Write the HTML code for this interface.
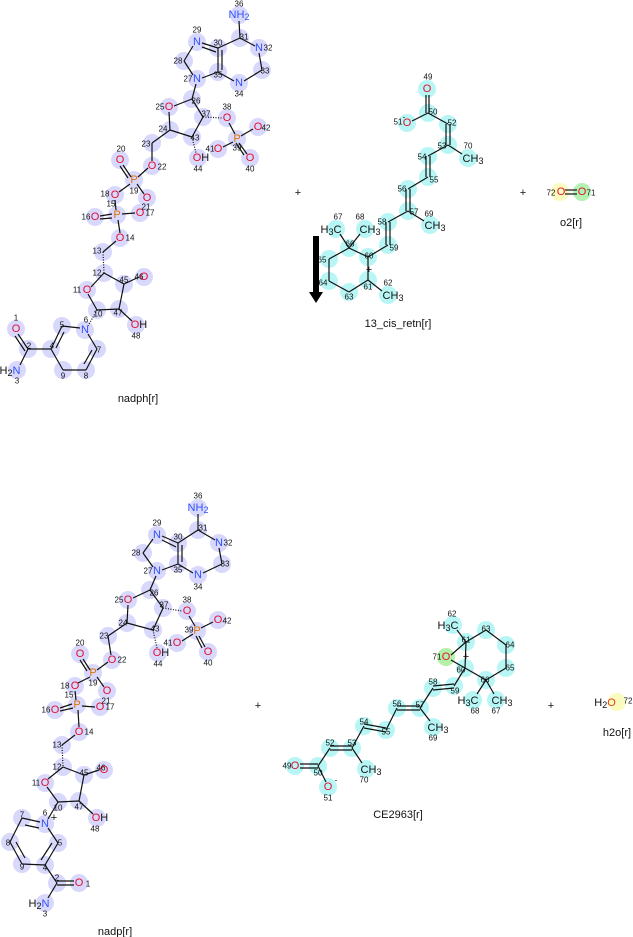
<!DOCTYPE html>
<html><head><meta charset="utf-8"><style>
html,body{margin:0;padding:0;background:#fff;}
svg{display:block;font-family:"Liberation Sans","DejaVu Sans",sans-serif;}
.b{fill:#d8d8fc}.c{fill:#b8f6f6}
.a{font-size:11px;text-anchor:middle;dominant-baseline:central}
.n{fill:#3050f8}.o{fill:#e0102f}.p{fill:#e07000}.k{fill:#111}
.s{font-size:8px;fill:#111;text-anchor:middle;dominant-baseline:central}
.l{font-size:11px;fill:#111;text-anchor:middle}
line{stroke:#111;stroke-width:1.2}
</style></head><body>
<svg width="633" height="937" viewBox="0 0 633 937" xmlns="http://www.w3.org/2000/svg">
<!-- ===== NADPH top ===== -->
<g class="b">
<circle cx="239" cy="15" r="9"/><circle cx="240" cy="38" r="9"/><circle cx="259" cy="48" r="9"/><circle cx="262" cy="70" r="9"/><circle cx="239" cy="83" r="9"/><circle cx="218" cy="72" r="9"/><circle cx="218" cy="48" r="9"/><circle cx="197" cy="42" r="9"/><circle cx="184" cy="61" r="9"/><circle cx="197" cy="79" r="9"/><circle cx="192" cy="99" r="9"/><circle cx="169" cy="107" r="9"/><circle cx="203" cy="117" r="9"/><circle cx="227" cy="118" r="9"/><circle cx="237" cy="139" r="9"/><circle cx="258" cy="127" r="9"/><circle cx="250" cy="158" r="9"/><circle cx="218" cy="149" r="9"/><circle cx="192" cy="137" r="9"/><circle cx="198" cy="158" r="9"/><circle cx="170" cy="130" r="9"/><circle cx="152" cy="143" r="9"/><circle cx="152" cy="166" r="9"/><circle cx="120" cy="160" r="9"/><circle cx="134" cy="180" r="9"/><circle cx="115" cy="195" r="9"/><circle cx="147" cy="198" r="9"/><circle cx="117" cy="215" r="9"/><circle cx="95" cy="217" r="9"/><circle cx="140" cy="213" r="9"/><circle cx="120" cy="238" r="9"/><circle cx="103" cy="252" r="9"/><circle cx="104" cy="273" r="9"/><circle cx="87" cy="290" r="9"/><circle cx="144" cy="277" r="9"/><circle cx="124" cy="284" r="9"/><circle cx="97" cy="310" r="9"/><circle cx="119" cy="309" r="9"/><circle cx="136" cy="325" r="9"/><circle cx="85" cy="330" r="9"/><circle cx="62" cy="326" r="9"/><circle cx="97" cy="349" r="9"/><circle cx="51" cy="349" r="9"/><circle cx="86" cy="370" r="9"/><circle cx="63" cy="370" r="9"/><circle cx="28" cy="349" r="9"/><circle cx="16" cy="329" r="9"/><circle cx="17" cy="370" r="9"/>
</g>
<g>
<line x1="239" y1="21" x2="240" y2="38"/><line x1="240" y1="38" x2="255" y2="46"/><line x1="259" y1="53" x2="262" y2="70"/><line x1="262" y1="70" x2="244" y2="81"/><line x1="234" y1="81" x2="218" y2="72"/><line x1="218" y1="72" x2="218" y2="48"/><line x1="222" y1="70" x2="222" y2="50"/><line x1="218" y1="48" x2="240" y2="38"/><line x1="218" y1="48" x2="202" y2="43"/><line x1="216" y1="52" x2="202" y2="47"/><line x1="193" y1="46" x2="184" y2="61"/><line x1="184" y1="61" x2="193" y2="75"/><line x1="202" y1="78" x2="218" y2="72"/>
<line x1="196" y1="84" x2="192" y2="99"/><line x1="192" y1="99" x2="174" y2="106"/><line x1="192" y1="99" x2="203" y2="117"/><line x1="203" y1="117" x2="192" y2="137"/><line x1="192" y1="137" x2="170" y2="130"/><line x1="170" y1="130" x2="169" y2="112"/><line x1="203" y1="117" x2="222" y2="118" stroke-dasharray="1,1.5" stroke-width="3"/><line x1="229" y1="123" x2="235" y2="134"/><line x1="241" y1="136" x2="253" y2="129"/><line x1="239" y1="143" x2="247" y2="154"/><line x1="236" y1="143" x2="244" y2="155"/><line x1="233" y1="142" x2="223" y2="147"/><line x1="192" y1="137" x2="196" y2="153" stroke-dasharray="1,1.5" stroke-width="3"/>
<line x1="170" y1="130" x2="152" y2="143" stroke-width="3"/><line x1="152" y1="143" x2="152" y2="161"/><line x1="148" y1="168" x2="138" y2="177"/><line x1="131" y1="177" x2="123" y2="165"/><line x1="128" y1="178" x2="120" y2="166"/><line x1="130" y1="184" x2="119" y2="192"/><line x1="137" y1="184" x2="144" y2="194"/><line x1="115" y1="200" x2="116" y2="210"/><line x1="112" y1="214" x2="100" y2="216"/><line x1="112" y1="218" x2="100" y2="219"/><line x1="122" y1="214" x2="135" y2="213"/><line x1="118" y1="220" x2="120" y2="233"/><line x1="116" y1="241" x2="103" y2="252"/><line x1="103" y1="252" x2="104" y2="273" stroke-dasharray="1,1.5" stroke-width="3"/><line x1="104" y1="273" x2="91" y2="287"/><line x1="104" y1="273" x2="124" y2="284"/><line x1="124" y1="284" x2="139" y2="277" stroke-width="3"/><line x1="124" y1="284" x2="119" y2="309"/><line x1="119" y1="309" x2="97" y2="310"/><line x1="97" y1="310" x2="88" y2="294"/><line x1="119" y1="309" x2="132" y2="321" stroke-width="3"/><line x1="97" y1="310" x2="88" y2="326" stroke-dasharray="1,1.5" stroke-width="3"/>
<line x1="80" y1="328" x2="62" y2="326"/><line x1="62" y1="326" x2="51" y2="349"/><line x1="64" y1="332" x2="56" y2="348"/><line x1="51" y1="349" x2="63" y2="370"/><line x1="63" y1="370" x2="86" y2="370"/><line x1="86" y1="370" x2="97" y2="349"/><line x1="84" y1="364" x2="92" y2="350"/><line x1="97" y1="349" x2="88" y2="334"/><line x1="51" y1="349" x2="28" y2="349"/><line x1="28" y1="349" x2="18" y2="334"/><line x1="25" y1="351" x2="15" y2="336"/><line x1="28" y1="349" x2="20" y2="365"/>
</g>
<g class="a">
<text x="239" y="15" class="n">NH<tspan font-size="9" dy="2">2</tspan></text>
<text x="259" y="48" class="n">N</text><text x="239" y="83" class="n">N</text><text x="197" y="42" class="n">N</text><text x="197" y="79" class="n">N</text>
<text x="169" y="107" class="o">O</text><text x="227" y="118" class="o">O</text><text x="237" y="139" class="p">P</text><text x="258" y="127" class="o">O</text><text x="250" y="158" class="o">O</text><text x="218" y="149" class="o">O</text>
<text x="201" y="158" class="o">O<tspan class="k">H</tspan></text>
<text x="152" y="166" class="o">O</text><text x="120" y="160" class="o">O</text><text x="134" y="180" class="p">P</text><text x="115" y="195" class="o">O</text><text x="147" y="198" class="o">O</text><text x="117" y="215" class="p">P</text><text x="95" y="217" class="o">O</text><text x="140" y="213" class="o">O</text><text x="120" y="238" class="o">O</text><text x="87" y="290" class="o">O</text><text x="144" y="277" class="o">O</text>
<text x="139" y="325" class="o">O<tspan class="k">H</tspan></text>
<text x="85" y="330" class="n">N</text><text x="16" y="329" class="o">O</text>
<text x="10" y="371" class="k">H<tspan font-size="9" dy="2">2</tspan><tspan class="n" dy="-2">N</tspan></text>
</g>
<g class="s">
<text x="239" y="4">36</text><text x="244" y="37">31</text><text x="268" y="48">32</text><text x="265" y="71">33</text><text x="239" y="94">34</text><text x="218" y="75">35</text><text x="218" y="43">30</text><text x="197" y="30">29</text><text x="178" y="61">28</text><text x="188" y="79">27</text><text x="196" y="101">26</text><text x="160" y="107">25</text><text x="206" y="114">37</text><text x="227" y="107">38</text><text x="237" y="148">39</text><text x="266" y="128">42</text><text x="250" y="169">40</text><text x="210" y="149">41</text><text x="195" y="138">43</text><text x="198" y="169">44</text><text x="163" y="129">24</text><text x="146" y="144">23</text><text x="162" y="167">22</text><text x="121" y="149">20</text><text x="134" y="191">19</text><text x="105" y="194">18</text><text x="146" y="207">21</text><text x="111" y="204">15</text><text x="86" y="217">16</text><text x="150" y="213">17</text><text x="130" y="238">14</text><text x="97" y="251">13</text><text x="97" y="273">12</text><text x="77" y="290">11</text><text x="139" y="277">46</text><text x="124" y="280">45</text><text x="98" y="314">10</text><text x="118" y="313">47</text><text x="136" y="336">48</text><text x="86" y="320">6</text><text x="62" y="325">5</text><text x="99" y="350">7</text><text x="52" y="346">4</text><text x="86" y="376">8</text><text x="63" y="376">9</text><text x="29" y="346">2</text><text x="16" y="318">1</text><text x="17" y="381">3</text>
</g>
<text x="138" y="402" class="l">nadph[r]</text>

<!-- plus signs -->
<g class="l" font-size="14px"><text x="298" y="196">+</text><text x="523" y="196">+</text><text x="258" y="709">+</text><text x="551" y="709">+</text></g>

<!-- ===== 13-cis retinoate ===== -->
<g class="c">
<circle cx="427" cy="89" r="9"/><circle cx="428" cy="113" r="9"/><circle cx="407" cy="123" r="9"/><circle cx="448" cy="124" r="9"/><circle cx="448" cy="145" r="9"/><circle cx="468" cy="158" r="9"/><circle cx="428" cy="156" r="9"/><circle cx="428" cy="177" r="9"/><circle cx="408" cy="189" r="9"/><circle cx="408" cy="211" r="9"/><circle cx="430" cy="225" r="9"/><circle cx="388" cy="222" r="9"/><circle cx="388" cy="245" r="9"/><circle cx="368" cy="257" r="9"/><circle cx="368" cy="280" r="9"/><circle cx="388" cy="295" r="9"/><circle cx="349" cy="292" r="9"/><circle cx="329" cy="281" r="9"/><circle cx="329" cy="259" r="9"/><circle cx="349" cy="248" r="9"/><circle cx="336" cy="229" r="9"/><circle cx="365" cy="229" r="9"/>
</g>
<g>
<line x1="426" y1="95" x2="426" y2="113"/><line x1="429" y1="95" x2="429" y2="113"/><line x1="428" y1="113" x2="412" y2="121"/><line x1="428" y1="113" x2="448" y2="124"/><line x1="446" y1="124" x2="446" y2="145"/><line x1="450" y1="124" x2="450" y2="145"/><line x1="448" y1="145" x2="462" y2="154"/><line x1="448" y1="145" x2="428" y2="156"/><line x1="426" y1="156" x2="426" y2="177"/><line x1="430" y1="156" x2="430" y2="177"/><line x1="428" y1="177" x2="408" y2="189"/><line x1="406" y1="189" x2="406" y2="211"/><line x1="410" y1="189" x2="410" y2="211"/><line x1="408" y1="211" x2="424" y2="221"/><line x1="408" y1="211" x2="388" y2="222"/><line x1="386" y1="222" x2="386" y2="245"/><line x1="390" y1="222" x2="390" y2="245"/><line x1="388" y1="245" x2="368" y2="257"/><line x1="368" y1="257" x2="368" y2="280"/><line x1="368" y1="280" x2="382" y2="291"/><line x1="368" y1="280" x2="349" y2="292"/><line x1="349" y1="292" x2="329" y2="281"/><line x1="329" y1="281" x2="329" y2="259"/><line x1="329" y1="259" x2="349" y2="248"/><line x1="349" y1="248" x2="368" y2="257"/><line x1="349" y1="248" x2="340" y2="234"/><line x1="349" y1="248" x2="360" y2="234"/>
</g>
<g class="a">
<text x="427" y="89" class="o">O</text><text x="407" y="123" class="o">O</text><text x="404" y="117" class="k" font-size="8">-</text>
<text x="473" y="159" class="k">CH<tspan font-size="9" dy="2">3</tspan></text><text x="435" y="226" class="k">CH<tspan font-size="9" dy="2">3</tspan></text><text x="393" y="296" class="k">CH<tspan font-size="9" dy="2">3</tspan></text><text x="370" y="230" class="k">CH<tspan font-size="9" dy="2">3</tspan></text><text x="331" y="230" class="k">H<tspan font-size="9" dy="2">3</tspan><tspan dy="-2">C</tspan></text>
<text x="369" y="270" class="k">+</text>
</g>
<g class="s">
<text x="428" y="77">49</text><text x="433" y="112">50</text><text x="398" y="122">51</text><text x="452" y="123">52</text><text x="442" y="146">53</text><text x="468" y="146">70</text><text x="422" y="157">54</text><text x="434" y="180">55</text><text x="402" y="189">56</text><text x="414" y="212">57</text><text x="429" y="214">69</text><text x="382" y="222">58</text><text x="394" y="248">59</text><text x="369" y="256">60</text><text x="368" y="287">61</text><text x="388" y="283">62</text><text x="349" y="297">63</text><text x="323" y="283">64</text><text x="322" y="260">65</text><text x="350" y="244">66</text><text x="338" y="217">67</text><text x="360" y="217">68</text>
</g>
<text x="398" y="327" class="l">13_cis_retn[r]</text>
<rect x="313" y="236" width="6" height="57" fill="#000"/><polygon points="309,292 323,292 316,303" fill="#000"/>

<!-- o2 -->
<circle cx="560" cy="192" r="9" fill="#fbfbc0"/><circle cx="582" cy="192" r="9" fill="#b4f2b4"/>
<line x1="565" y1="190" x2="577" y2="190"/><line x1="565" y1="194" x2="577" y2="194"/>
<text x="561" y="192" class="a o" fill="#e04010">O</text><text x="582" y="192" class="a o">O</text>
<text x="551" y="193" class="s">72</text><text x="591" y="193" class="s">71</text>
<text x="571" y="226" class="l">o2[r]</text>

<!-- ===== NADP bottom ===== -->
<g class="b">
<circle cx="198" cy="508" r="9"/><circle cx="198" cy="530" r="9"/><circle cx="219" cy="543" r="9"/><circle cx="222" cy="564" r="9"/><circle cx="198" cy="575" r="9"/><circle cx="178" cy="564" r="9"/><circle cx="178" cy="543" r="9"/><circle cx="157" cy="535" r="9"/><circle cx="143" cy="553" r="9"/><circle cx="157" cy="571" r="9"/><circle cx="150" cy="590" r="9"/><circle cx="128" cy="600" r="9"/><circle cx="163" cy="608" r="9"/><circle cx="187" cy="611" r="9"/><circle cx="197" cy="631" r="9"/><circle cx="218" cy="620" r="9"/><circle cx="208" cy="652" r="9"/><circle cx="177" cy="643" r="9"/><circle cx="153" cy="630" r="9"/><circle cx="158" cy="653" r="9"/><circle cx="127" cy="623" r="9"/><circle cx="108" cy="636" r="9"/><circle cx="112" cy="660" r="9"/><circle cx="80" cy="654" r="9"/><circle cx="93" cy="673" r="9"/><circle cx="75" cy="686" r="9"/><circle cx="107" cy="691" r="9"/><circle cx="77" cy="705" r="9"/><circle cx="55" cy="710" r="9"/><circle cx="100" cy="707" r="9"/><circle cx="79" cy="732" r="9"/><circle cx="62" cy="745" r="9"/><circle cx="63" cy="767" r="9"/><circle cx="45" cy="783" r="9"/><circle cx="104" cy="770" r="9"/><circle cx="84" cy="775" r="9"/><circle cx="58" cy="802" r="9"/><circle cx="79" cy="801" r="9"/><circle cx="97" cy="818" r="9"/><circle cx="45" cy="824" r="9"/><circle cx="22" cy="818" r="9"/><circle cx="58" cy="843" r="9"/><circle cx="10" cy="842" r="9"/><circle cx="22" cy="864" r="9"/><circle cx="45" cy="865" r="9"/><circle cx="57" cy="883" r="9"/><circle cx="79" cy="883" r="9"/><circle cx="45" cy="903" r="9"/>
</g>
<g>
<line x1="198" y1="514" x2="198" y2="530"/><line x1="198" y1="530" x2="215" y2="540"/><line x1="219" y1="548" x2="222" y2="564"/><line x1="222" y1="564" x2="203" y2="573"/><line x1="193" y1="573" x2="178" y2="564"/><line x1="178" y1="564" x2="178" y2="543"/><line x1="182" y1="562" x2="182" y2="545"/><line x1="178" y1="543" x2="198" y2="530"/><line x1="178" y1="543" x2="162" y2="536"/><line x1="176" y1="547" x2="162" y2="540"/><line x1="153" y1="539" x2="143" y2="553"/><line x1="143" y1="553" x2="153" y2="567"/><line x1="162" y1="570" x2="178" y2="564"/>
<line x1="156" y1="576" x2="150" y2="590" stroke-width="3"/><line x1="150" y1="590" x2="133" y2="598"/><line x1="150" y1="590" x2="163" y2="608"/><line x1="163" y1="608" x2="153" y2="630"/><line x1="153" y1="630" x2="127" y2="623"/><line x1="127" y1="623" x2="128" y2="605"/><line x1="163" y1="608" x2="182" y2="611" stroke-dasharray="1,1.5" stroke-width="3"/><line x1="189" y1="616" x2="195" y2="626"/><line x1="201" y1="628" x2="213" y2="622"/><line x1="199" y1="636" x2="205" y2="647"/><line x1="196" y1="636" x2="202" y2="648"/><line x1="193" y1="634" x2="182" y2="641"/><line x1="153" y1="630" x2="157" y2="648" stroke-dasharray="1,1.5" stroke-width="3"/>
<line x1="127" y1="623" x2="108" y2="636" stroke-width="3"/><line x1="108" y1="636" x2="111" y2="655"/><line x1="108" y1="662" x2="97" y2="670"/><line x1="90" y1="670" x2="83" y2="659"/><line x1="87" y1="671" x2="80" y2="660"/><line x1="90" y1="677" x2="78" y2="683"/><line x1="97" y1="677" x2="104" y2="687"/><line x1="75" y1="691" x2="76" y2="700"/><line x1="72" y1="704" x2="60" y2="708"/><line x1="73" y1="708" x2="60" y2="711"/><line x1="82" y1="706" x2="95" y2="707"/><line x1="78" y1="710" x2="79" y2="727"/><line x1="75" y1="735" x2="62" y2="745"/><line x1="62" y1="745" x2="63" y2="767" stroke-dasharray="1,1.5" stroke-width="3"/><line x1="63" y1="767" x2="48" y2="779"/><line x1="63" y1="767" x2="84" y2="775"/><line x1="84" y1="775" x2="99" y2="770" stroke-width="3"/><line x1="84" y1="775" x2="79" y2="801"/><line x1="79" y1="801" x2="58" y2="802"/><line x1="58" y1="802" x2="47" y2="787"/><line x1="79" y1="801" x2="93" y2="814" stroke-width="3"/><line x1="58" y1="802" x2="48" y2="819"/>
<line x1="40" y1="822" x2="22" y2="818"/><line x1="39" y1="828" x2="25" y2="825"/><line x1="22" y1="818" x2="10" y2="842"/><line x1="10" y1="842" x2="22" y2="864"/><line x1="16" y1="842" x2="25" y2="858"/><line x1="22" y1="864" x2="45" y2="865"/><line x1="45" y1="865" x2="58" y2="843"/><line x1="41" y1="860" x2="52" y2="843"/><line x1="58" y1="843" x2="48" y2="828"/><line x1="45" y1="865" x2="57" y2="883"/><line x1="57" y1="881" x2="74" y2="881"/><line x1="57" y1="885" x2="74" y2="885"/><line x1="57" y1="883" x2="48" y2="898"/>
</g>
<g class="a">
<text x="198" y="508" class="n">NH<tspan font-size="9" dy="2">2</tspan></text>
<text x="219" y="543" class="n">N</text><text x="198" y="575" class="n">N</text><text x="157" y="535" class="n">N</text><text x="157" y="571" class="n">N</text>
<text x="128" y="600" class="o">O</text><text x="187" y="611" class="o">O</text><text x="197" y="631" class="p">P</text><text x="218" y="620" class="o">O</text><text x="208" y="652" class="o">O</text><text x="177" y="643" class="o">O</text>
<text x="161" y="653" class="o">O<tspan class="k">H</tspan></text>
<text x="112" y="660" class="o">O</text><text x="80" y="654" class="o">O</text><text x="93" y="673" class="p">P</text><text x="75" y="686" class="o">O</text><text x="107" y="691" class="o">O</text><text x="77" y="705" class="p">P</text><text x="55" y="710" class="o">O</text><text x="100" y="707" class="o">O</text><text x="79" y="732" class="o">O</text><text x="45" y="783" class="o">O</text><text x="104" y="770" class="o">O</text>
<text x="100" y="818" class="o">O<tspan class="k">H</tspan></text>
<text x="45" y="824" class="n">N</text><text x="54" y="818" class="k">+</text><text x="79" y="883" class="o">O</text>
<text x="39" y="904" class="k">H<tspan font-size="9" dy="2">2</tspan><tspan class="n" dy="-2">N</tspan></text>
</g>
<g class="s">
<text x="198" y="496">36</text><text x="203" y="528">31</text><text x="228" y="543">32</text><text x="225" y="564">33</text><text x="198" y="587">34</text><text x="178" y="570">35</text><text x="178" y="537">30</text><text x="157" y="523">29</text><text x="136" y="553">28</text><text x="148" y="571">27</text><text x="154" y="593">26</text><text x="119" y="600">25</text><text x="164" y="605">37</text><text x="187" y="600">38</text><text x="189" y="630">39</text><text x="227" y="621">42</text><text x="208" y="663">40</text><text x="168" y="643">41</text><text x="155" y="629">43</text><text x="158" y="664">44</text><text x="123" y="623">24</text><text x="104" y="636">23</text><text x="122" y="660">22</text><text x="80" y="643">20</text><text x="93" y="683">19</text><text x="65" y="686">18</text><text x="106" y="701">21</text><text x="69" y="695">15</text><text x="46" y="710">16</text><text x="110" y="707">17</text><text x="89" y="732">14</text><text x="57" y="745">13</text><text x="57" y="767">12</text><text x="36" y="783">11</text><text x="101" y="768">46</text><text x="84" y="773">45</text><text x="58" y="808">10</text><text x="79" y="807">47</text><text x="95" y="829">48</text><text x="45" y="813">6</text><text x="22" y="815">7</text><text x="60" y="843">5</text><text x="8" y="843">8</text><text x="22" y="867">9</text><text x="45" y="868">4</text><text x="57" y="878">2</text><text x="88" y="884">1</text><text x="45" y="914">3</text>
</g>
<text x="115" y="935" class="l">nadp[r]</text>

<!-- ===== CE2963 ===== -->
<g class="c">
<circle cx="453" cy="625" r="9"/><circle cx="466" cy="642" r="9"/><circle cx="486" cy="630" r="9"/><circle cx="506" cy="645" r="9"/><circle cx="506" cy="668" r="9"/><circle cx="486" cy="680" r="9"/><circle cx="473" cy="700" r="9"/><circle cx="496" cy="700" r="9"/><circle cx="465" cy="668" r="9"/><circle cx="454" cy="686" r="9"/><circle cx="433" cy="688" r="9"/><circle cx="420" cy="708" r="9"/><circle cx="397" cy="708" r="9"/><circle cx="433" cy="727" r="9"/><circle cx="386" cy="730" r="9"/><circle cx="364" cy="726" r="9"/><circle cx="352" cy="748" r="9"/><circle cx="330" cy="748" r="9"/><circle cx="366" cy="769" r="9"/><circle cx="318" cy="766" r="9"/><circle cx="295" cy="766" r="9"/><circle cx="328" cy="787" r="9"/>
</g>
<circle cx="446" cy="657" r="9" fill="#b4f0a8"/>
<g>
<line x1="466" y1="642" x2="457" y2="630"/><line x1="466" y1="642" x2="486" y2="630"/><line x1="486" y1="630" x2="506" y2="645"/><line x1="506" y1="645" x2="506" y2="668"/><line x1="506" y1="668" x2="486" y2="680"/><line x1="486" y1="680" x2="465" y2="668"/><line x1="465" y1="668" x2="466" y2="642"/><line x1="486" y1="680" x2="477" y2="694"/><line x1="486" y1="680" x2="494" y2="694"/><line x1="451" y1="655" x2="466" y2="642"/><line x1="451" y1="660" x2="465" y2="668"/><line x1="465" y1="668" x2="454" y2="686"/><line x1="454" y1="684" x2="433" y2="686"/><line x1="454" y1="688" x2="433" y2="690"/><line x1="433" y1="688" x2="420" y2="708"/><line x1="420" y1="706" x2="397" y2="706"/><line x1="420" y1="710" x2="397" y2="710"/><line x1="420" y1="708" x2="430" y2="721"/><line x1="397" y1="708" x2="386" y2="730"/><line x1="386" y1="728" x2="364" y2="724"/><line x1="386" y1="732" x2="364" y2="728"/><line x1="364" y1="726" x2="352" y2="748"/><line x1="352" y1="746" x2="330" y2="746"/><line x1="352" y1="750" x2="330" y2="750"/><line x1="352" y1="748" x2="362" y2="763"/><line x1="330" y1="748" x2="318" y2="766"/><line x1="318" y1="764" x2="300" y2="764"/><line x1="318" y1="768" x2="300" y2="768"/><line x1="318" y1="766" x2="326" y2="782"/>
</g>
<g class="a">
<text x="448" y="626" class="k">H<tspan font-size="9" dy="2">3</tspan><tspan dy="-2">C</tspan></text>
<text x="468" y="701" class="k">H<tspan font-size="9" dy="2">3</tspan><tspan dy="-2">C</tspan></text>
<text x="502" y="701" class="k">CH<tspan font-size="9" dy="2">3</tspan></text>
<text x="438" y="728" class="k">CH<tspan font-size="9" dy="2">3</tspan></text>
<text x="371" y="770" class="k">CH<tspan font-size="9" dy="2">3</tspan></text>
<text x="446" y="657" class="o">O</text><text x="466" y="657" class="k">+</text>
<text x="295" y="766" class="o">O</text><text x="328" y="787" class="o">O</text><text x="336" y="780" class="k" font-size="8">-</text>
</g>
<g class="s">
<text x="452" y="614">62</text><text x="466" y="640">61</text><text x="486" y="629">63</text><text x="510" y="645">64</text><text x="510" y="668">65</text><text x="485" y="680">66</text><text x="475" y="711">68</text><text x="496" y="711">67</text><text x="461" y="670">60</text><text x="437" y="657">71</text><text x="455" y="691">59</text><text x="433" y="682">58</text><text x="420" y="705">57</text><text x="397" y="704">56</text><text x="433" y="738">69</text><text x="386" y="732">55</text><text x="364" y="722">54</text><text x="352" y="743">53</text><text x="330" y="743">52</text><text x="364" y="780">70</text><text x="318" y="773">50</text><text x="287" y="766">49</text><text x="328" y="798">51</text>
</g>
<text x="398" y="818" class="l">CE2963[r]</text>

<!-- h2o -->
<circle cx="617" cy="702" r="9" fill="#fbfbc0"/>
<text x="605" y="703" class="a k">H<tspan font-size="9" dy="2">2</tspan><tspan dy="-2" fill="#e04010">O</tspan></text>
<text x="628" y="701" class="s">72</text>
<text x="617" y="736" class="l">h2o[r]</text>
</svg>
</body></html>
